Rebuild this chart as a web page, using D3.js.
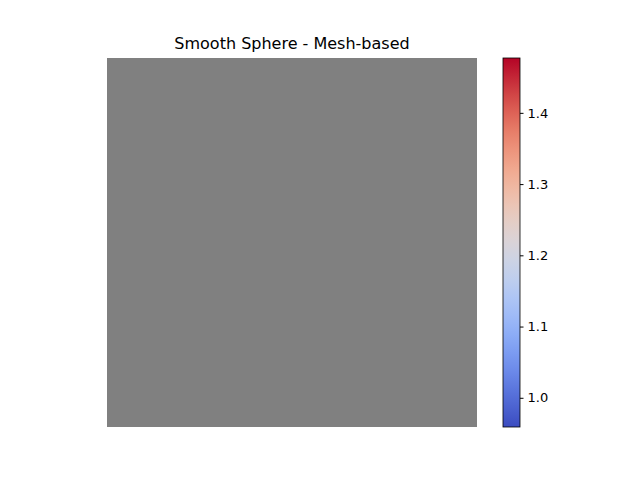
<!DOCTYPE html>
<html><head><meta charset="utf-8">
<script src="https://cdn.jsdelivr.net/npm/d3@7"></script>
<style>body{margin:0;background:#fff}text{font-family:"DejaVu Sans",sans-serif}</style>
</head><body>
<script>
var title = "Smooth Sphere - Mesh-based";
var colorDomain = [0.959, 1.477];
var colorTicks = [1.0, 1.1, 1.2, 1.3, 1.4];
var imageExtent = [0, 1];
var imageColor = "#808080";

var width = 640, height = 480;
var svg = d3.select("body").append("svg").attr("width", width).attr("height", height);

var x = d3.scaleLinear().domain(imageExtent).range([107, 477]);
var y = d3.scaleLinear().domain(imageExtent).range([427, 58]);

svg.append("rect")
  .attr("x", x(0)).attr("y", y(1))
  .attr("width", x(1) - x(0)).attr("height", y(0) - y(1))
  .attr("fill", imageColor);

svg.append("text")
  .attr("x", (x(0) + x(1)) / 2).attr("y", 49)
  .attr("text-anchor", "middle").attr("font-size", 16)
  .text(title);

// colorbar
var cbX = 503, cbW = 17;
var cy = d3.scaleLinear().domain(colorDomain).range([427, 58]);
var defs = svg.append("defs");
var grad = defs.append("linearGradient").attr("id", "cw")
  .attr("x1", 0).attr("y1", 1).attr("x2", 0).attr("y2", 0);
d3.range(0, 1.0001, 0.05).forEach(function(t) {
  grad.append("stop").attr("offset", t).attr("stop-color", d3.interpolateRdBu(1 - t));
});
// approximate coolwarm with custom interpolation
grad.selectAll("stop").remove();
var coolwarm = d3.interpolateRgbBasis(["#3b4cc0", "#6f92f3", "#aac7fd", "#dddddd", "#f7b89c", "#e7745b", "#b40426"]);
d3.range(0, 1.0001, 0.05).forEach(function(t) {
  grad.append("stop").attr("offset", t).attr("stop-color", coolwarm(t));
});
svg.append("rect")
  .attr("x", cbX).attr("y", cy(colorDomain[1]))
  .attr("width", cbW).attr("height", cy(colorDomain[0]) - cy(colorDomain[1]))
  .attr("fill", "url(#cw)").attr("stroke", "#000").attr("stroke-width", 0.8);

var axis = d3.axisRight(cy).tickValues(colorTicks).tickFormat(d3.format(".1f")).tickSize(3.5).tickPadding(4);
var g = svg.append("g").attr("transform", "translate(" + (cbX + cbW) + ",0)").call(axis);
g.select(".domain").remove();
g.selectAll("text").attr("font-size", 13).attr("font-family", "DejaVu Sans").attr("fill", "#000");
</script>
</body></html>
